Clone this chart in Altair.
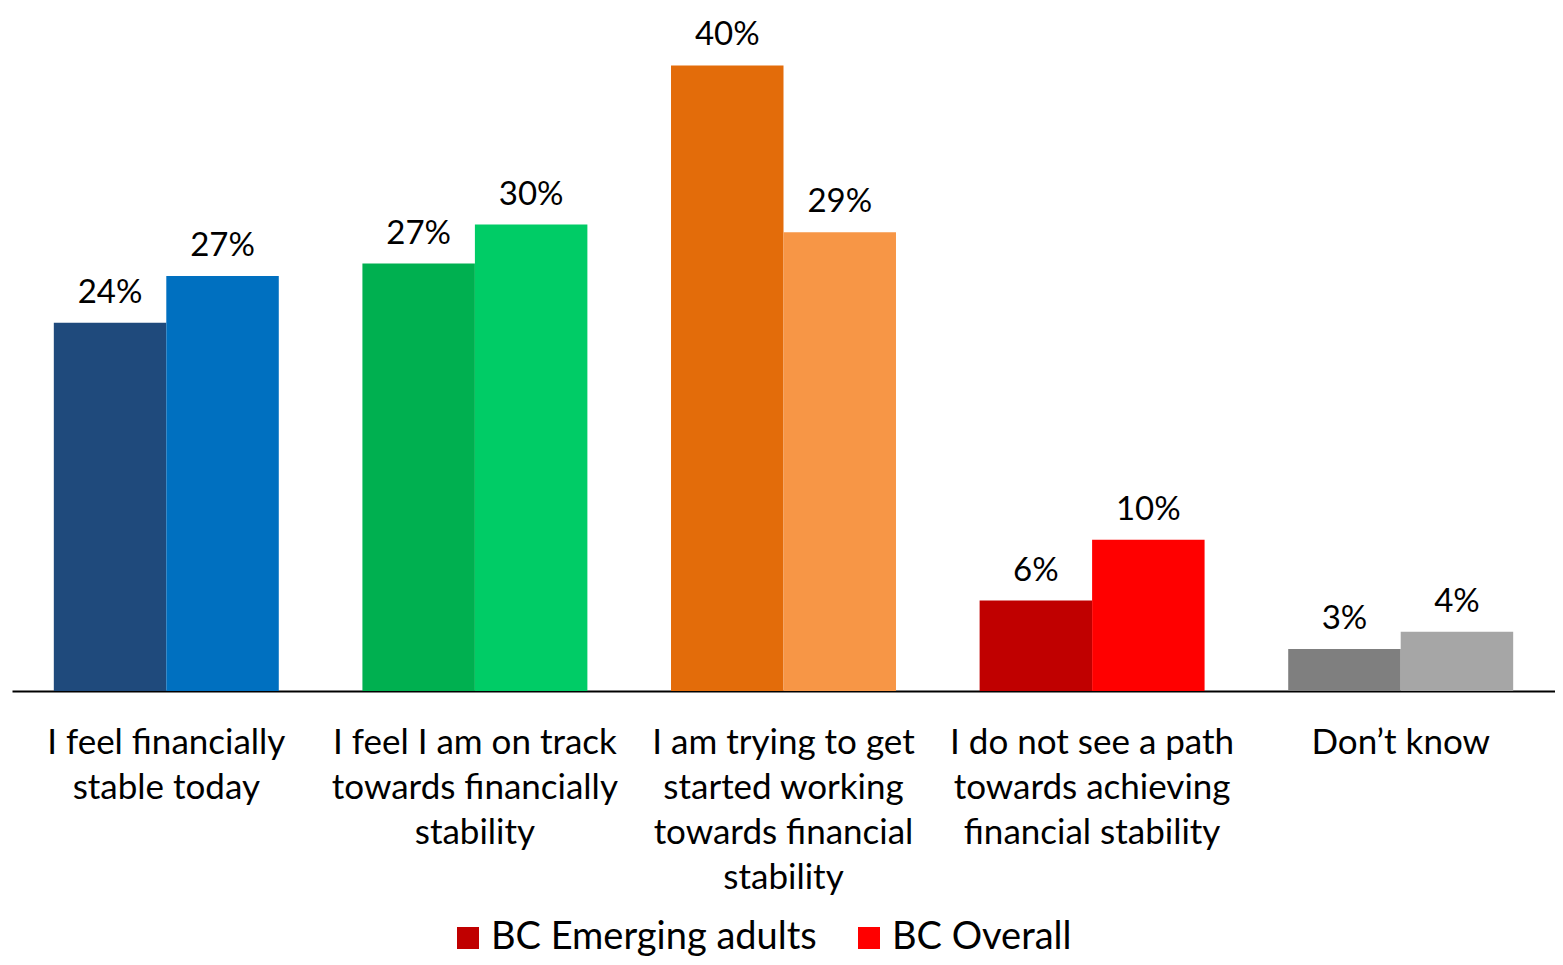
import altair as alt
import pandas as pd

categories = [
    "I feel financially\nstable today",
    "I feel I am on track\ntowards financially\nstability",
    "I am trying to get\nstarted working\ntowards financial\nstability",
    "I do not see a path\ntowards achieving\nfinancial stability",
    "Don\u2019t know",
]
series = ["BC Emerging adults", "BC Overall"]
emerging = [0.236, 0.274, 0.401, 0.058, 0.027]
overall = [0.266, 0.299, 0.294, 0.097, 0.038]
colors_emerging = ["#1F4A7C", "#00B050", "#E36C0A", "#C00000", "#7F7F7F"]
colors_overall = ["#0070C0", "#00CC66", "#F79646", "#FF0000", "#A6A6A6"]

rows = []
for i, c in enumerate(categories):
    rows.append({"category": c, "series": series[0], "value": emerging[i], "key": f"{i}-0", "color": colors_emerging[i]})
    rows.append({"category": c, "series": series[1], "value": overall[i], "key": f"{i}-1", "color": colors_overall[i]})
df = pd.DataFrame(rows)

FONT = "Lato"
x = alt.X(
    "category:N",
    sort=categories,
    title=None,
    scale=alt.Scale(paddingInner=0.271, paddingOuter=0.1355),
    axis=alt.Axis(
        labelExpr="split(datum.label, '\\n')",
        labelFontSize=35,
        labelLineHeight=45,
        labelFont=FONT,
        labelColor="black",
        labelAngle=0,
        labelPadding=34,
        labelLimit=0,
        labelOverlap=False,
        ticks=False,
        domainColor="black",
        domainWidth=2,
        grid=False,
    ),
)
xo = alt.XOffset("series:N", sort=series, scale=alt.Scale(paddingInner=0, paddingOuter=0))
y = alt.Y("value:Q", axis=None, scale=alt.Scale(domain=[0, 0.4346], nice=False, zero=True))

bars = alt.Chart(df).mark_bar().encode(
    x=x,
    xOffset=xo,
    y=y,
    color=alt.Color("key:N", scale=alt.Scale(domain=list(df["key"]), range=list(df["color"])), legend=None),
)

labels = alt.Chart(df).mark_text(
    baseline="bottom", dy=-13, fontSize=33, font=FONT, color="black"
).encode(
    x=x,
    xOffset=xo,
    y=y,
    text=alt.Text("value:Q", format=".0%"),
)

legend_layer = alt.Chart(df).mark_point(opacity=0, filled=True).encode(
    x=x,
    xOffset=xo,
    y=y,
    fill=alt.Fill(
        "series:N",
        sort=series,
        scale=alt.Scale(domain=series, range=["#C00000", "#FF0000"]),
        legend=alt.Legend(
            title=None,
            orient="none",
            direction="horizontal",
            legendX=437,
            legendY=906,
            symbolType="square",
            symbolSize=484,
            symbolOpacity=1,
            symbolStrokeWidth=0,
            labelFontSize=38,
            labelFont=FONT,
            labelColor="black",
            labelOffset=4,
            columnPadding=33,
            labelLimit=0,
        ),
    ),
)

chart = (
    alt.layer(bars, labels, legend_layer)
    .resolve_scale(color="independent", fill="independent")
    .properties(
        width=1543,
        height=678,
        background="white",
        padding={"left": 4, "top": 5, "right": 0, "bottom": 266},
        autosize=alt.AutoSizeParams(type="none"),
    )
    .configure_view(stroke=None, strokeWidth=0)
)

chart.save("out.html", embed_options={"renderer": "svg", "actions": False})
